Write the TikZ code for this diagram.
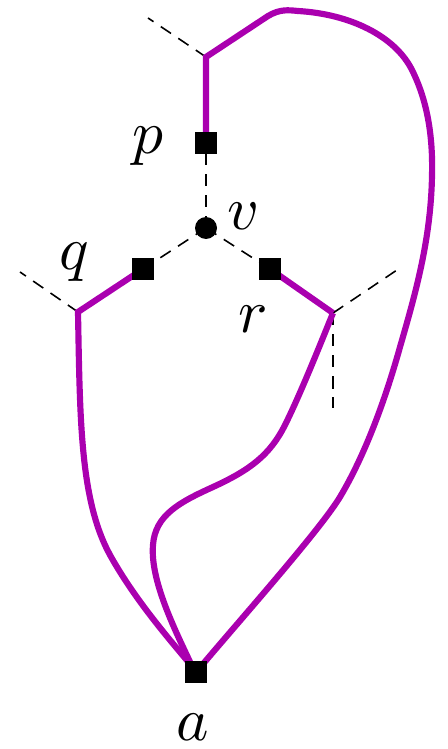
\documentclass[tikz,border=0pt]{standalone}
\definecolor{arcpurple}{RGB}{170,0,175}
\tikzset{
  sq/.style={rectangle,fill=black,draw=none,minimum size=0.44cm,inner sep=0pt},
  dot/.style={circle,fill=black,draw=none,minimum size=0.44cm,inner sep=0pt},
  lbl/.style={inner sep=0pt,scale=3.5},
  dsh/.style={draw=black,line width=0.9pt,dash pattern=on 7pt off 5pt},
  arc/.style={draw=arcpurple,line width=3.5pt,line join=miter},
}
\begin{document}
\begin{tikzpicture}[x=0.02cm,y=-0.02cm]
\useasboundingbox (0,0) rectangle (448,749);
% vertices
\coordinate (T) at (206,57);
\coordinate (L) at (78,312);
\coordinate (R) at (333,313);
\coordinate (Tend) at (148,18);
\coordinate (Lend) at (20,272);
\coordinate (Rend) at (397,270);
\coordinate (Rdown) at (333,408);
% dashed half-edges
\path[dsh] (T) -- (Tend);
\path[dsh] (L) -- (Lend);
\path[dsh] (R) -- (Rend);
\path[dsh] (R) -- (Rdown);
\path[dsh] (206,228) -- (206,143);
\path[dsh] (206,228) -- (143,269);
\path[dsh] (206,228) -- (270,269);
% purple arcs
\path[arc] (206,143) -- (T) -- (268,16) .. controls (280,9) and (288,10) .. (298,11)
  .. controls (350,14) and (395,36) .. (412,70)
  .. controls (427,100) and (433,135) .. (432,175)
  .. controls (431,240) and (415,295) .. (400,347)
  .. controls (388,390) and (368,450) .. (340,497)
  .. controls (320,530) and (240,620) .. (203,664);
\path[arc] (143,269) -- (L) .. controls (80,420) and (80,500) .. (110,555)
  .. controls (135,600) and (170,640) .. (190,664);
\path[arc] (270,269) -- (R);
\path[arc] (R) .. controls (320,345) and (300,395) .. (285,425)
  .. controls (270,455) and (250,470) .. (213,487)
  .. controls (180,502) and (155,515) .. (153,545)
  .. controls (150,580) and (175,630) .. (191,664);
% nodes
\node[dot] (v) at (206,228) {};
\node[sq] (p) at (206,143) {};
\node[sq] (q) at (143,269) {};
\node[sq] (r) at (270,269) {};
\node[sq] (a) at (196,672) {};
% labels
\node[lbl] (pl) at (148,146) {$p$};
\node[lbl] (vl) at (244,216) {$v$};
\node[lbl] (ql) at (74,262) {$q$};
\node[lbl] (rl) at (253,319) {$r$};
\node[lbl] (al) at (193,727) {$a$};
\end{tikzpicture}
\end{document}
